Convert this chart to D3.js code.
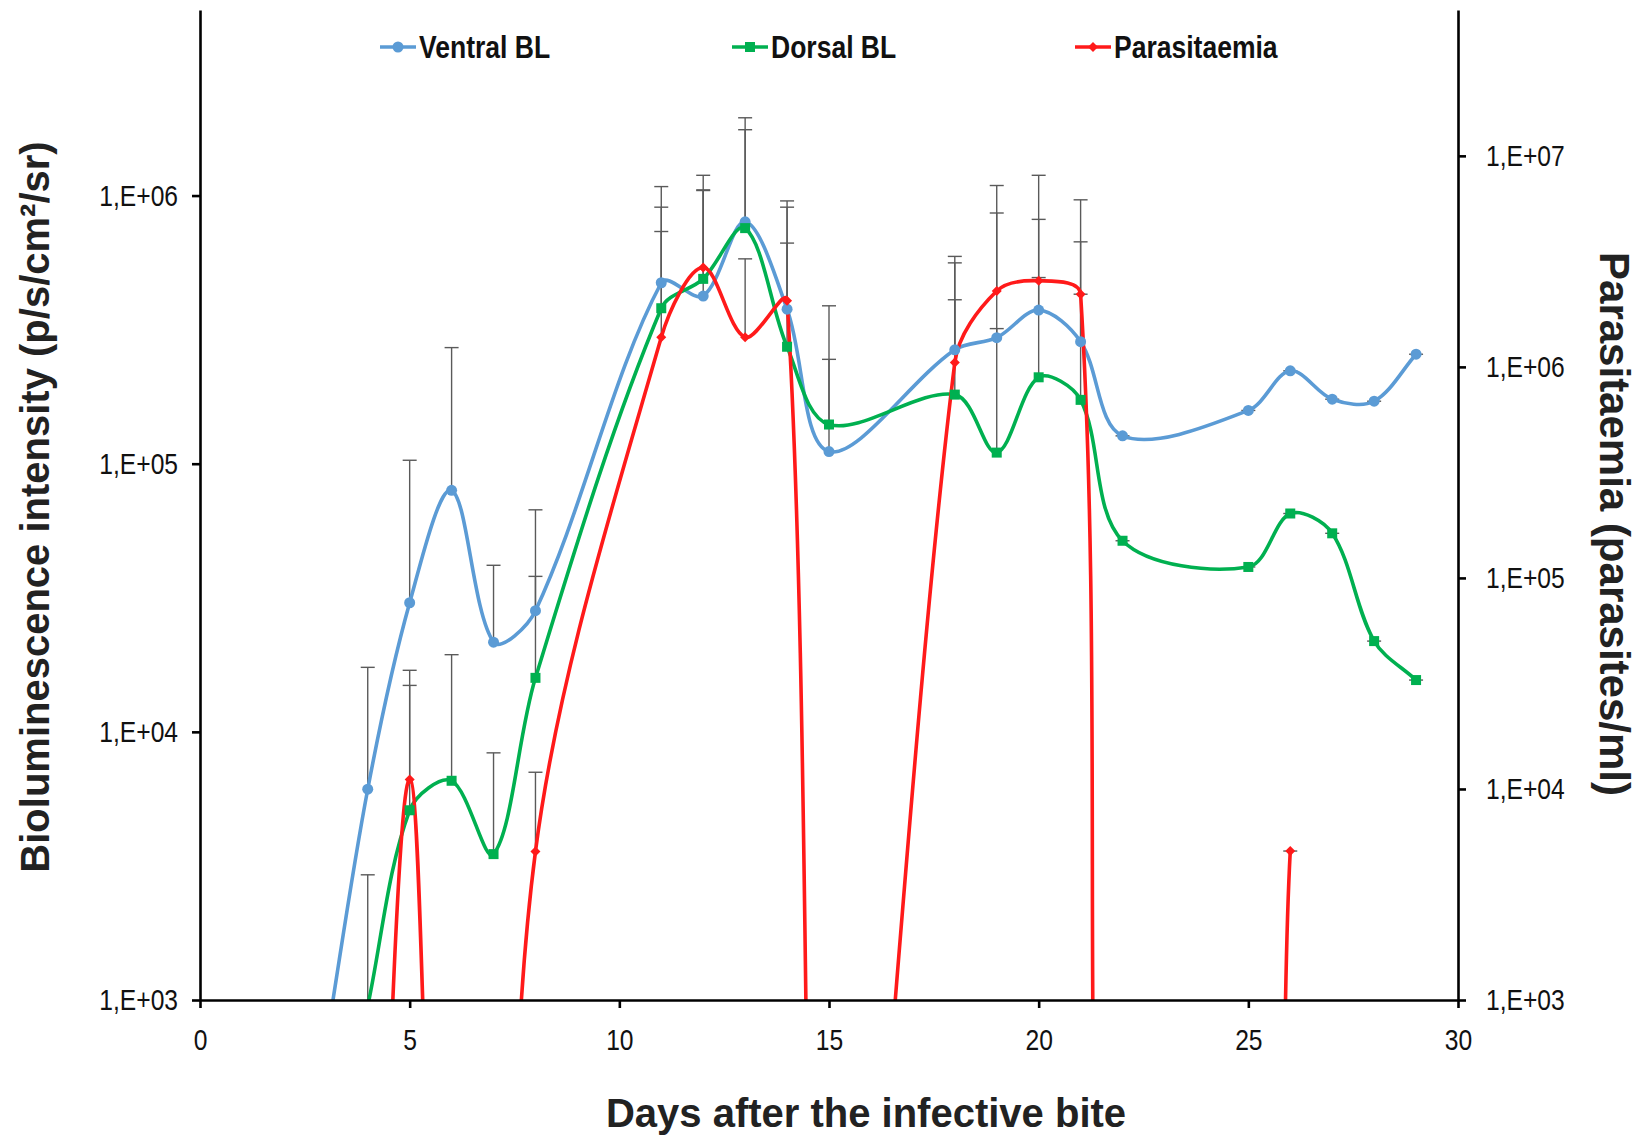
<!DOCTYPE html>
<html>
<head>
<meta charset="utf-8">
<script src="https://cdn.jsdelivr.net/npm/d3@7"></script>
<style>
  html, body { margin: 0; padding: 0; background: #fff; }
  svg { display: block; }
  .tick-label { font-family: "Liberation Sans", Arial, sans-serif; font-size: 30px; fill: #111; }
  .legend-label { font-family: "Liberation Sans", Arial, sans-serif; font-size: 31px; font-weight: bold; fill: #111; }
  .axis-title { font-family: "Liberation Sans", Arial, sans-serif; font-size: 40px; font-weight: bold; fill: #222; }
</style>
</head>
<body>
<svg id="chart" width="1644" height="1135"></svg>
<script>
// Bioluminescence (left axis, p/s/cm²/sr) and parasitaemia (right axis, parasites/ml)
// after the infective bite. Upper arrays hold mean + SD, the top of each error bar.

const ventralDays  = [3, 4, 5, 6, 7, 8, 11, 12, 13, 14, 15, 18, 19, 20, 21, 22, 25, 26, 27, 28, 29];
const ventral      = [680, 6110, 30300, 79600, 21600, 28300, 473000, 422000, 798000, 377000, 111000,
                      266000, 295000, 374000, 285000, 127000, 158000, 222000, 174000, 171000, 256000];
const ventralUpper = [680, 17400, 103000, 271000, 41800, 67300, 1080000, 1190000, 1950000, 955000, 245000,
                      593000, 319000, 1190000, 672000, 127000, 158000, 222000, 174000, 171000, 256000];

const dorsalDays   = [4, 5, 6, 7, 8, 11, 12, 13, 14, 15, 18, 19, 20, 21, 22, 25, 26, 27, 28, 29];
const dorsal       = [950, 5100, 6570, 3500, 15900, 380000, 489000, 756000, 273000, 140000,
                      181000, 110000, 210000, 173000, 51600, 41200, 65200, 55000, 21800, 15600];
const dorsalUpper  = [2930, 14900, 19400, 8350, 38000, 905000, 1050000, 1760000, 905000, 388000,
                      561000, 1090000, 815000, 964000, 51600, 41200, 65200, 55000, 21800, 15600];

// 0 = no parasites detected in the blood smear
const parasiteDays  = [4, 5, 6, 7, 8, 11, 12, 13, 14, 15, 18, 19, 20, 21, 22, 25, 26];
const parasitaemia  = [0, 11100, 0, 0, 5060, 1380000, 2960000, 1380000, 2060000, 0,
                       1050000, 2290000, 2560000, 2210000, 0, 0, 5080];
const parasiteUpper = [0, 36500, 0, 0, 12000, 4380000, 6850000, 3250000, 3860000, 0,
                       2080000, 5360000, 2650000, 2210000, 0, 0, 5080];

const xTicks      = [0, 5, 10, 15, 20, 25, 30];
const leftTicks   = [1e3, 1e4, 1e5, 1e6];
const rightTicks  = [1e3, 1e4, 1e5, 1e6, 1e7];

const seriesNames = ["Ventral BL", "Dorsal BL", "Parasitaemia"];
const colors      = { ventral: "#5b9bd5", dorsal: "#00b050", parasite: "#ff1a1a" };

const xTitle = "Days after the infective bite";
const yLeftTitle = "Bioluminescence intensity (p/s/cm²/sr)";
const yRightTitle = "Parasitaemia (parasites/ml)";

// ---------------------------------------------------------------------------
const plot = { left: 200, right: 1458, top: 10, bottom: 1000 };

const svg = d3.select("#chart");

const x  = d3.scaleLinear().domain([0, 30]).range([plot.left, plot.right]);
const yL = d3.scaleLog().domain([1e3, 4.92e6]).range([plot.bottom, plot.top]);
const yR = d3.scaleLog().domain([1e3, 4.91e7]).range([plot.bottom, plot.top]);

// undetected counts sit at 1 parasite/ml, far below the visible range
const floorVal = v => Math.max(v, 1);

// Smoothed line: cubic Bézier segments whose tangent at each point is parallel
// to the chord joining its neighbours, with handle lengths proportional to the
// adjoining segment (a third of it), so long drops do not bulge sideways.
function SmoothCurve(context) { this._context = context; }
SmoothCurve.prototype = {
  areaStart() {}, areaEnd() {},
  lineStart() { this._pts = []; },
  point(px, py) { this._pts.push([+px, +py]); },
  lineEnd() {
    const p = this._pts, n = p.length, c = this._context;
    if (!n) return;
    c.moveTo(p[0][0], p[0][1]);
    if (n === 1) return;
    const dist = (a, b) => Math.hypot(b[0] - a[0], b[1] - a[1]);
    const tangent = i => {
      const a = p[Math.max(i - 1, 0)], b = p[Math.min(i + 1, n - 1)];
      const d = dist(a, p[i]) + dist(p[i], b);
      return d > 0 ? [(b[0] - a[0]) / d, (b[1] - a[1]) / d] : [0, 0];
    };
    for (let i = 0; i < n - 1; i++) {
      const h = dist(p[i], p[i + 1]) / 3, t0 = tangent(i), t1 = tangent(i + 1);
      c.bezierCurveTo(
        p[i][0] + t0[0] * h, p[i][1] + t0[1] * h,
        p[i + 1][0] - t1[0] * h, p[i + 1][1] - t1[1] * h,
        p[i + 1][0], p[i + 1][1]);
    }
  }
};
const curveSmooth = context => new SmoothCurve(context);

svg.append("defs").append("clipPath").attr("id", "plot-clip")
  .append("rect")
  .attr("x", plot.left).attr("y", plot.top)
  .attr("width", plot.right - plot.left).attr("height", plot.bottom - plot.top);

const sciLabel = d => "1,E+0" + Math.round(Math.log10(d));

// horizontally condensed text, like a narrow face
function condense(sel, factor) {
  sel.each(function () {
    const w = this.getComputedTextLength();
    this.setAttribute("textLength", (w * factor).toFixed(1));
    this.setAttribute("lengthAdjust", "spacingAndGlyphs");
  });
}

// ---- series ---------------------------------------------------------------
const series = [
  { key: "ventral",  days: ventralDays,  vals: ventral,      upper: ventralUpper,  y: yL, marker: "circle" },
  { key: "dorsal",   days: dorsalDays,   vals: dorsal,       upper: dorsalUpper,   y: yL, marker: "square" },
  { key: "parasite", days: parasiteDays, vals: parasitaemia, upper: parasiteUpper, y: yR, marker: "diamond" }
];

const g = svg.append("g").attr("clip-path", "url(#plot-clip)");

// error bars (mean to mean + SD, capped)
const errG = g.append("g");
series.forEach(s => {
  s.days.forEach((d, i) => {
    if (s.vals[i] <= 0) return;
    const cx = x(d);
    const y0 = s.y(floorVal(s.vals[i]));
    const y1 = s.y(floorVal(s.upper[i]));
    errG.append("line").attr("x1", cx).attr("x2", cx).attr("y1", y0).attr("y2", y1)
      .attr("stroke", "#5a5a5a").attr("stroke-width", 1.4);
    errG.append("line").attr("x1", cx - 7).attr("x2", cx + 7).attr("y1", y1).attr("y2", y1)
      .attr("stroke", "#5a5a5a").attr("stroke-width", 1.4);
  });
});

// smoothed lines
series.forEach(s => {
  const pts = s.days.map((d, i) => [d, floorVal(s.vals[i])]);
  const line = d3.line()
    .x(p => x(p[0]))
    .y(p => s.y(p[1]))
    .curve(curveSmooth);
  g.append("path").datum(pts)
    .attr("d", line)
    .attr("fill", "none")
    .attr("stroke", colors[s.key])
    .attr("stroke-width", 3.6)
    .attr("stroke-linejoin", "round");
});

// markers
function drawMarker(sel, type, color) {
  if (type === "circle") {
    sel.append("circle").attr("r", 5.5).attr("fill", color);
  } else if (type === "square") {
    sel.append("rect").attr("x", -5).attr("y", -5).attr("width", 10).attr("height", 10).attr("fill", color);
  } else {
    sel.append("path").attr("d", "M0,-5 L5,0 L0,5 L-5,0 Z").attr("fill", color);
  }
}
series.forEach(s => {
  s.days.forEach((d, i) => {
    if (s.vals[i] <= 0) return;
    const m = g.append("g").attr("transform", `translate(${x(d)},${s.y(s.vals[i])})`);
    drawMarker(m, s.marker, colors[s.key]);
  });
});

// ---- axes -----------------------------------------------------------------
const axisStyle = sel => {
  sel.select(".domain").attr("stroke", "#000").attr("stroke-width", 2.6);
  sel.selectAll(".tick line").attr("stroke", "#000").attr("stroke-width", 2.6);
  sel.selectAll(".tick text").attr("class", "tick-label").attr("fill", null);
  sel.attr("font-family", null).attr("font-size", null);
  condense(sel.selectAll(".tick text"), 0.82);
};

const xAxis = d3.axisBottom(x).tickValues(xTicks).tickFormat(d3.format("d"))
  .tickSizeInner(8).tickSizeOuter(0).tickPadding(21);
svg.append("g").attr("transform", `translate(0,${plot.bottom})`).call(xAxis).call(axisStyle);

const leftAxis = d3.axisLeft(yL).tickValues(leftTicks).tickFormat(sciLabel)
  .tickSizeInner(8).tickSizeOuter(0).tickPadding(14);
svg.append("g").attr("transform", `translate(${plot.left},0)`).call(leftAxis).call(axisStyle);

const rightAxis = d3.axisRight(yR).tickValues(rightTicks).tickFormat(sciLabel)
  .tickSizeInner(8).tickSizeOuter(0).tickPadding(20);
svg.append("g").attr("transform", `translate(${plot.right},0)`).call(rightAxis).call(axisStyle);

// ---- titles ---------------------------------------------------------------
svg.append("text").attr("class", "axis-title")
  .attr("x", 866).attr("y", 1127).attr("text-anchor", "middle")
  .text(xTitle);

svg.append("text").attr("class", "axis-title")
  .attr("transform", "translate(35,507) rotate(-90)")
  .attr("text-anchor", "middle").attr("dominant-baseline", "central")
  .text(yLeftTitle);

svg.append("text").attr("class", "axis-title")
  .attr("transform", "translate(1614,524) rotate(90)")
  .attr("text-anchor", "middle").attr("dominant-baseline", "central")
  .style("font-size", "42px")
  .text(yRightTitle);

// ---- legend ---------------------------------------------------------------
const legendItems = [
  { name: seriesNames[0], key: "ventral",  marker: "circle",  x: 380 },
  { name: seriesNames[1], key: "dorsal",   marker: "square",  x: 732 },
  { name: seriesNames[2], key: "parasite", marker: "diamond", x: 1075 }
];
const legend = svg.append("g").attr("transform", "translate(0,47)");
legendItems.forEach(it => {
  const li = legend.append("g").attr("transform", `translate(${it.x},0)`);
  li.append("line").attr("x1", 0).attr("x2", 36).attr("y1", 0).attr("y2", 0)
    .attr("stroke", colors[it.key]).attr("stroke-width", 3.6);
  drawMarker(li.append("g").attr("transform", "translate(18,0)"), it.marker, colors[it.key]);
  li.append("text").attr("class", "legend-label")
    .attr("x", 39).attr("y", 0).attr("dominant-baseline", "central")
    .text(it.name);
});
condense(legend.selectAll("text"), 0.855);
</script>
</body>
</html>
